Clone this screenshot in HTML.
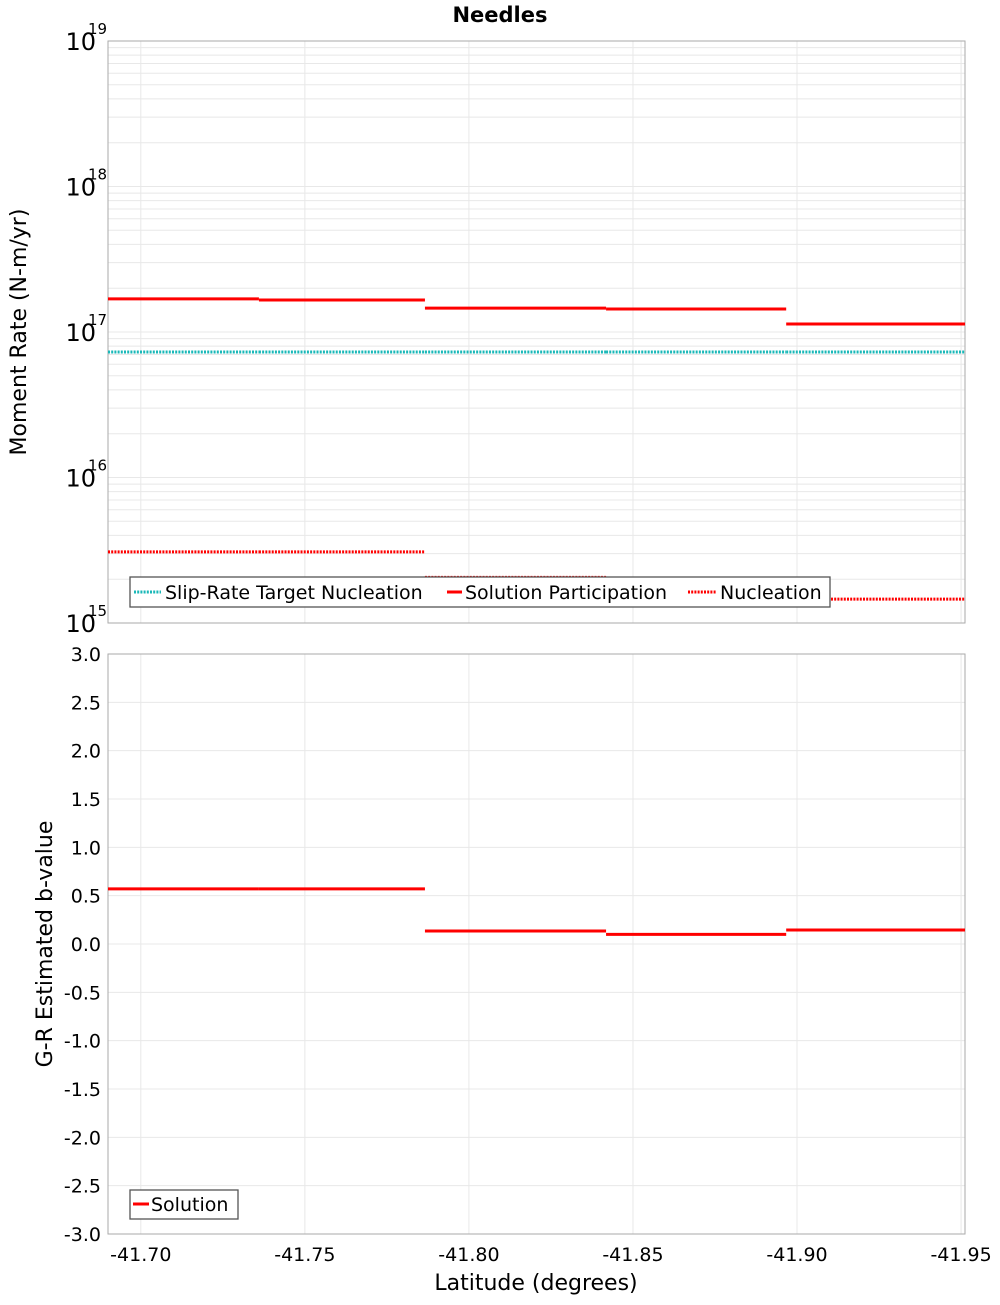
<!DOCTYPE html>
<html><head><meta charset="utf-8"><style>
body{margin:0;background:#fff;}
svg text{font-family:"DejaVu Sans","Liberation Sans",sans-serif;}
</style></head><body>
<svg id="c" width="1000" height="1300" xmlns="http://www.w3.org/2000/svg">
<text x="500" y="22" text-anchor="middle" font-size="21" font-weight="bold">Needles</text>
<g id="topPanel"></g>
<g id="botPanel"></g>
</svg>
<script>
const binEdges=[-41.690,-41.736,-41.7866,-41.8418,-41.8967,-41.9512];
const participation=[1.69e17,1.66e17,1.46e17,1.44e17,1.135e17];
const nucleation=[3.08e15,3.08e15,2.06e15,2.0e15,1.46e15];
const targetNucleation=[7.28e16,7.28e16,7.28e16,7.28e16,7.28e16];
const bValues=[0.57,0.57,0.135,0.10,0.145];
const xTicks=[-41.70,-41.75,-41.80,-41.85,-41.90,-41.95];
const decadeTicks=[15,16,17,18,19];
const bTicks=[-3,-2.5,-2,-1.5,-1,-0.5,0,0.5,1,1.5,2,2.5,3];

const NS="http://www.w3.org/2000/svg";
const L=108,R=965,T1=41,B1=623,T2=654,B2=1234;
const xDom=[-41.690,-41.9512];
function X(v){return L+(v-xDom[0])/(xDom[1]-xDom[0])*(R-L);}
function Y1(v){return B1-(Math.log10(v)-15)/4*(B1-T1);}
function Y2(v){return B2-(v+3)/6*(B2-T2);}
function mk(p,tag,a,txt){const e=document.createElementNS(NS,tag);for(const k in a)e.setAttribute(k,a[k]);if(txt!==undefined)e.textContent=txt;p.appendChild(e);return e;}
const topG=document.getElementById('topPanel'),botG=document.getElementById('botPanel');

for(let d=15;d<19;d++)for(let m=1;m<10;m++){const y=Y1(m*Math.pow(10,d));
 const g=mk(topG,'line',{x1:L,x2:R,y1:y,y2:y,stroke:'#e8e8e8','stroke-width':1});
 
 }
for(const t of xTicks){const x=X(t);
 const g=mk(topG,'line',{x1:x,x2:x,y1:T1,y2:B1,stroke:'#e8e8e8'});
 
 
 const g2=mk(botG,'line',{x1:x,x2:x,y1:T2,y2:B2,stroke:'#e8e8e8'});
 
 
 const tl=mk(botG,'text',{x:x,y:1261,'text-anchor':'middle','font-size':19},t.toFixed(2));
 
 }
for(const d of decadeTicks){const y=Y1(Math.pow(10,d));
 const t=mk(topG,'text',{x:96,y:y+9,'text-anchor':'end','font-size':24},'10');
 
 
 const s=mk(topG,'text',{x:88,y:y-7,'font-size':15},String(d));
 
 }
const fr=mk(topG,'rect',{x:L,y:T1,width:R-L,height:B1-T1,fill:'none',stroke:'#aaa'});


const yt=mk(topG,'text',{transform:'translate(26,332) rotate(-90)','text-anchor':'middle','font-size':22},'Moment Rate (N-m/yr)');



function seg(p,vals,yf,color,dash,name){for(let i=0;i<vals.length;i++){
 const a={x1:X(binEdges[i]),x2:X(binEdges[i+1]),y1:yf(vals[i]),y2:yf(vals[i]),stroke:color,'stroke-width':3};
 if(dash)a['stroke-dasharray']='2,1.2';
 const e=mk(p,'line',a);
 
 }}
seg(topG,targetNucleation,Y1,'#1ab8b8',true,'target-nucleation-segment');
seg(topG,nucleation,Y1,'#ff0000',true,'nucleation-segment');
seg(topG,participation,Y1,'#ff0000',false,'participation-segment');

const lg=mk(topG,'g',{});


mk(lg,'rect',{x:130,y:577,width:700,height:30,fill:'#fff',stroke:'#555','stroke-width':1.3});
mk(lg,'line',{x1:134,x2:161,y1:592,y2:592,stroke:'#1ab8b8','stroke-width':3,'stroke-dasharray':'2,1.2'});
mk(lg,'text',{x:165,y:599,'font-size':19},'Slip-Rate Target Nucleation');
mk(lg,'line',{x1:447,x2:462,y1:592,y2:592,stroke:'#f00','stroke-width':3});
mk(lg,'text',{x:465,y:599,'font-size':19},'Solution Participation');
mk(lg,'line',{x1:688,x2:716,y1:592,y2:592,stroke:'#f00','stroke-width':3,'stroke-dasharray':'2,1.2'});
mk(lg,'text',{x:720,y:599,'font-size':19},'Nucleation');

for(const t of bTicks){const y=Y2(t);
 const g=mk(botG,'line',{x1:L,x2:R,y1:y,y2:y,stroke:'#e8e8e8'});
 
 
 const tl=mk(botG,'text',{x:101,y:y+7,'text-anchor':'end','font-size':19},t.toFixed(1));
 
 }
const fr2=mk(botG,'rect',{x:L,y:T2,width:R-L,height:B2-T2,fill:'none',stroke:'#aaa'});


seg(botG,bValues,Y2,'#ff0000',false,'b-value-segment');
const yt2=mk(botG,'text',{transform:'translate(52,944) rotate(-90)','text-anchor':'middle','font-size':22},'G-R Estimated b-value');


const xt=mk(botG,'text',{x:536,y:1290,'text-anchor':'middle','font-size':22},'Latitude (degrees)');


const lg2=mk(botG,'g',{});


mk(lg2,'rect',{x:130,y:1190,width:108,height:29,fill:'#fff',stroke:'#555','stroke-width':1.3});
mk(lg2,'line',{x1:133,x2:149,y1:1204,y2:1204,stroke:'#f00','stroke-width':3});
mk(lg2,'text',{x:151,y:1211,'font-size':19},'Solution');
</script>
</body></html>
